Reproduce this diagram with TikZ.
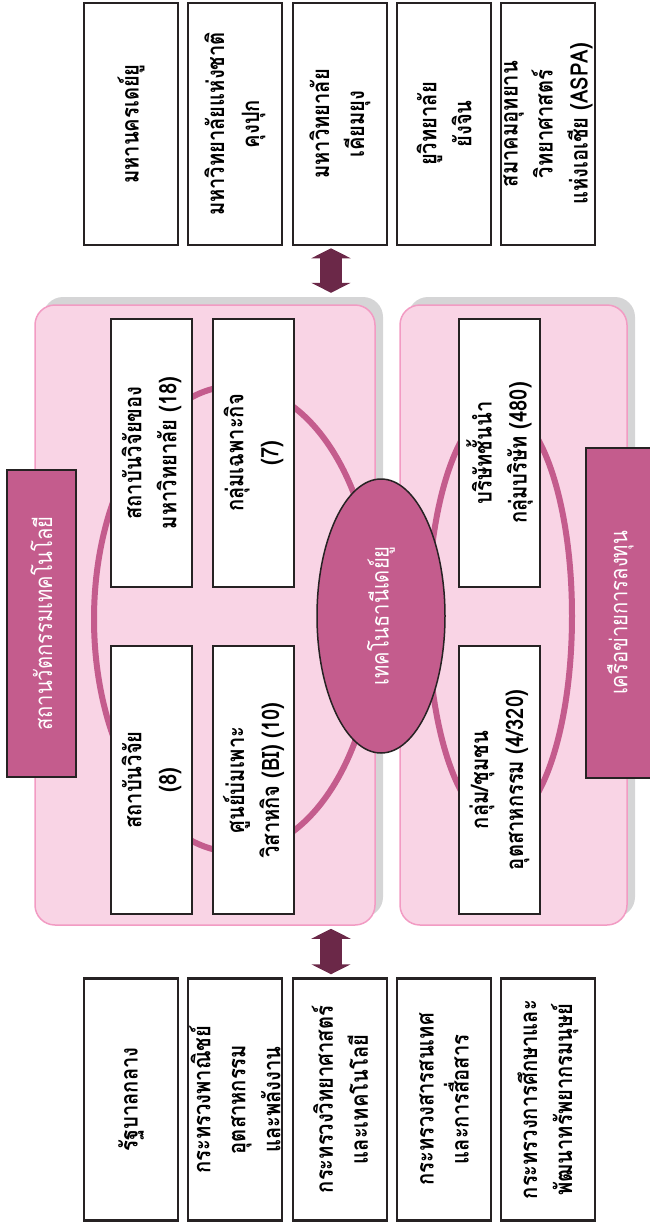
\documentclass[tikz,border=0pt]{standalone}
\usepackage{fontspec}
\newfontfamily\thaifont[Script=Thai, FakeStretch=0.84]{Loma}
\usetikzlibrary{shapes.geometric,arrows.meta}

\definecolor{rose}{HTML}{C45C8D}
\definecolor{panelfill}{HTML}{F9D4E5}
\definecolor{panelline}{HTML}{F29BC3}
\definecolor{shadegray}{HTML}{D5D5D6}
\definecolor{boxline}{HTML}{262223}
\definecolor{plum}{HTML}{6B2848}

\newcommand{\boxfont}{\thaifont\bfseries\fontsize{24}{35}\selectfont}
\newcommand{\tagfont}{\thaifont\fontsize{24}{30}\selectfont}

\begin{document}
\begin{tikzpicture}[x=1pt, y=-1pt,
  outerbox/.style={draw=boxline, line width=2.5pt, fill=white, rotate=90,
    minimum width=242pt, minimum height=94pt, inner sep=0pt, align=center, font=\boxfont},
  innerbox/.style={draw=boxline, line width=2pt, fill=white, rotate=90,
    minimum width=268pt, minimum height=81pt, inner sep=0pt, align=center, font=\boxfont},
  tag/.style={draw=boxline, line width=2pt, fill=rose, rotate=90, text=white,
    minimum height=69pt, inner sep=0pt, font=\tagfont},
  hub/.style={ellipse, draw=boxline, line width=1.5pt, fill=rose, rotate=90, text=white,
    minimum width=274pt, minimum height=128pt, inner sep=0pt, font=\tagfont},
  panel/.style={draw=panelline, line width=1.5pt, fill=panelfill, rounded corners=20pt,
    minimum height=620pt},
  shade/.style={fill=shadegray, rounded corners=20pt, minimum height=620pt},
  ring/.style={draw=rose, line width=6pt},
  linkarrow/.style={draw=plum, line width=22pt,
    {Triangle[length=10pt,width=39pt]}-{Triangle[length=10pt,width=39pt]}}]
\useasboundingbox (0,0) rectangle (650,1224);

% Panels with shadow
\node[shade, minimum width=340pt] (lshade) at (213,607) {};
\node[shade, minimum width=227pt] (rshade) at (521.5,607) {};
\node[panel, minimum width=340pt] (lpanel) at (205,615) {};
\node[panel, minimum width=227pt] (rpanel) at (513.5,615) {};

% Rings
\draw[ring] (235,619) ellipse [x radius=141, y radius=233];
\draw[ring] (500,616) ellipse [x radius=72, y radius=208];

% Inner boxes
\node[innerbox] (uni) at (151.5,453) {สถาบันวิจัยของ\\มหาวิทยาลัย (18)};
\node[innerbox] (task) at (253.5,453) {กลุ่มเฉพาะกิจ\\(7)};
\node[innerbox] (inst) at (151.5,780) {สถาบันวิจัย\\(8)};
\node[innerbox] (incub) at (253.5,780) {ศูนย์บ่มเพาะ\\วิสาหกิจ (BI) (10)};
\node[innerbox] (firm) at (499.5,453) {บริษัทชั้นนำ\\กลุ่มบริษัท (480)};
\node[innerbox] (clus) at (499.5,780) {กลุ่ม/ชุมชน\\อุตสาหกรรม (4/320)};

% Centre
\node[hub] (hub) at (381,616) {เทคโนธานีเดย์ยู};

% Tags
\node[tag, minimum width=307pt] (ltag) at (41.5,623.5) {สถานวัตกรรมเทคโนโลยี};
\node[tag, minimum width=330pt] (rtag) at (620.5,613) {เครือข่ายการลงทุน};

% Partners (top)
\node[outerbox] (t1) at (131,124) {มหานครเดย์ยู};
\node[outerbox] (t2) at (235,124) {มหาวิทยาลัยแห่งชาติ\\คุงปุก};
\node[outerbox] (t3) at (340,124) {มหาวิทยาลัย\\เคียมยุง};
\node[outerbox] (t4) at (444,124) {ยูวิทยาลัย\\ยังจิน};
\node[outerbox] (t5) at (548,124) {สมาคมอุทยาน\\วิทยาศาสตร์\\แห่งเอเชีย (ASPA)};

% Ministries (bottom)
\node[outerbox] (b1) at (131,1099.5) {รัฐบาลกลาง};
\node[outerbox] (b2) at (235,1099.5) {กระทรวงพาณิชย์\\อุตสาหกรรม\\และพลังงาน};
\node[outerbox] (b3) at (340,1099.5) {กระทรวงวิทยาศาสตร์\\และเทคโนโลยี};
\node[outerbox] (b4) at (444,1099.5) {กระทรวงสารสนเทศ\\และการสื่อสาร};
\node[outerbox] (b5) at (548,1099.5) {กระทรวงการศึกษาและ\\พัฒนาทรัพยากรมนุษย์};

% Arrows
\draw[linkarrow] ([xshift=-9pt,yshift=-2pt]t3.west) -- ([xshift=-9pt,yshift=4pt]t3.west |- lshade.north);
\draw[linkarrow] ([xshift=-9pt,yshift=-3pt]b3.east |- lpanel.south) -- ([xshift=-9pt,yshift=3pt]b3.east);
\end{tikzpicture}
\end{document}
